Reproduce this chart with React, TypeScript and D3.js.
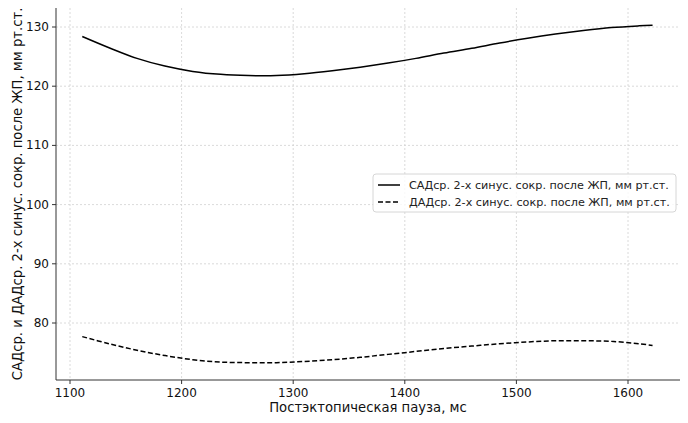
import React from "react";
import * as d3 from "d3";

const pauseMs = [1111, 1135, 1160, 1185, 1210, 1235, 1260, 1285, 1310, 1335, 1360, 1385, 1410, 1435, 1460, 1485, 1510, 1535, 1560, 1585, 1610, 1622];
const sbp = [128.4, 126.5, 124.7, 123.4, 122.5, 122.0, 121.8, 121.8, 122.1, 122.6, 123.2, 123.9, 124.7, 125.6, 126.4, 127.3, 128.1, 128.8, 129.4, 129.9, 130.2, 130.3];
const dbp = [77.7, 76.5, 75.4, 74.5, 73.8, 73.4, 73.3, 73.3, 73.5, 73.8, 74.2, 74.7, 75.2, 75.7, 76.1, 76.5, 76.8, 77.0, 77.0, 76.9, 76.5, 76.2];
const xTicks = [1100, 1200, 1300, 1400, 1500, 1600];
const yTicks = [80, 90, 100, 110, 120, 130];
const seriesNames = [
  "САДср. 2-х синус. сокр. после ЖП, мм рт.ст.",
  "ДАДср. 2-х синус. сокр. после ЖП, мм рт.ст.",
];
const xLabel = "Постэктопическая пауза, мс";
const yLabel = "САДср. и ДАДср. 2-х синус. сокр. после ЖП, мм рт.ст.";

const W = 688, H = 423;
const L = 56, R = 680, T = 8, B = 380;
const font = "DejaVu Sans, sans-serif";

export default function App() {
  const x = d3.scaleLinear().domain([1100, 1600]).range([70, 628]);
  const y = d3.scaleLinear().domain([80, 130]).range([323, 27]);
  const line = (vals: number[]) =>
    d3.line<number>().x((_, i) => x(pauseMs[i])).y((v) => y(v)).curve(d3.curveCatmullRom)(vals) || "";
  const dashes = ["", "5,2.5"];
  return (
    <svg width={W} height={H} style={{ position: "absolute", left: 0, top: 0, background: "#fff" }}>
      <rect width={W} height={H} fill="#fff" />
      {xTicks.map((t) => (
        <line key={"gx" + t} x1={x(t)} x2={x(t)} y1={T} y2={B} stroke="#d0d0d0" strokeWidth={0.8} strokeDasharray="2,2" />
      ))}
      {yTicks.map((t) => (
        <line key={"gy" + t} x1={L} x2={R} y1={y(t)} y2={y(t)} stroke="#d0d0d0" strokeWidth={0.8} strokeDasharray="2,2" />
      ))}
      <path d={line(sbp)} fill="none" stroke="#000" strokeWidth={1.5} />
      <path d={line(dbp)} fill="none" stroke="#000" strokeWidth={1.5} strokeDasharray={dashes[1]} />
      <line x1={L} x2={L} y1={T} y2={B} stroke="#333" strokeWidth={1} />
      <line x1={L} x2={R} y1={B} y2={B} stroke="#333" strokeWidth={1} />
      {xTicks.map((t) => (
        <g key={"tx" + t}>
          <line x1={x(t)} x2={x(t)} y1={B} y2={B + 4} stroke="#333" />
          <text x={x(t)} y={B + 17} textAnchor="middle" fontFamily={font} fontSize={12} fill="#111">{t}</text>
        </g>
      ))}
      {yTicks.map((t) => (
        <g key={"ty" + t}>
          <line x1={L - 4} x2={L} y1={y(t)} y2={y(t)} stroke="#333" />
          <text x={L - 7} y={y(t) + 4} textAnchor="end" fontFamily={font} fontSize={12} fill="#111">{t}</text>
        </g>
      ))}
      <text x={(L + R) / 2} y={412} textAnchor="middle" fontFamily={font} fontSize={13.2} fill="#111">{xLabel}</text>
      <text transform={`translate(22,${(T + B) / 2 + 0}) rotate(-90)`} textAnchor="middle" fontFamily={font} fontSize={13.2} fill="#111">{yLabel}</text>
      <g>
        <rect x={373} y={174} width={303} height={38} rx={3} fill="#fff" fillOpacity={0.8} stroke="#d6d6d6" />
        {seriesNames.map((n, i) => (
          <g key={n}>
            <line x1={378} x2={400} y1={185 + i * 17} y2={185 + i * 17} stroke="#000" strokeWidth={1.5} strokeDasharray={dashes[i]} />
            <text x={409} y={189 + i * 17} fontFamily={font} fontSize={11.2} fill="#222">{n}</text>
          </g>
        ))}
      </g>
    </svg>
  );
}
